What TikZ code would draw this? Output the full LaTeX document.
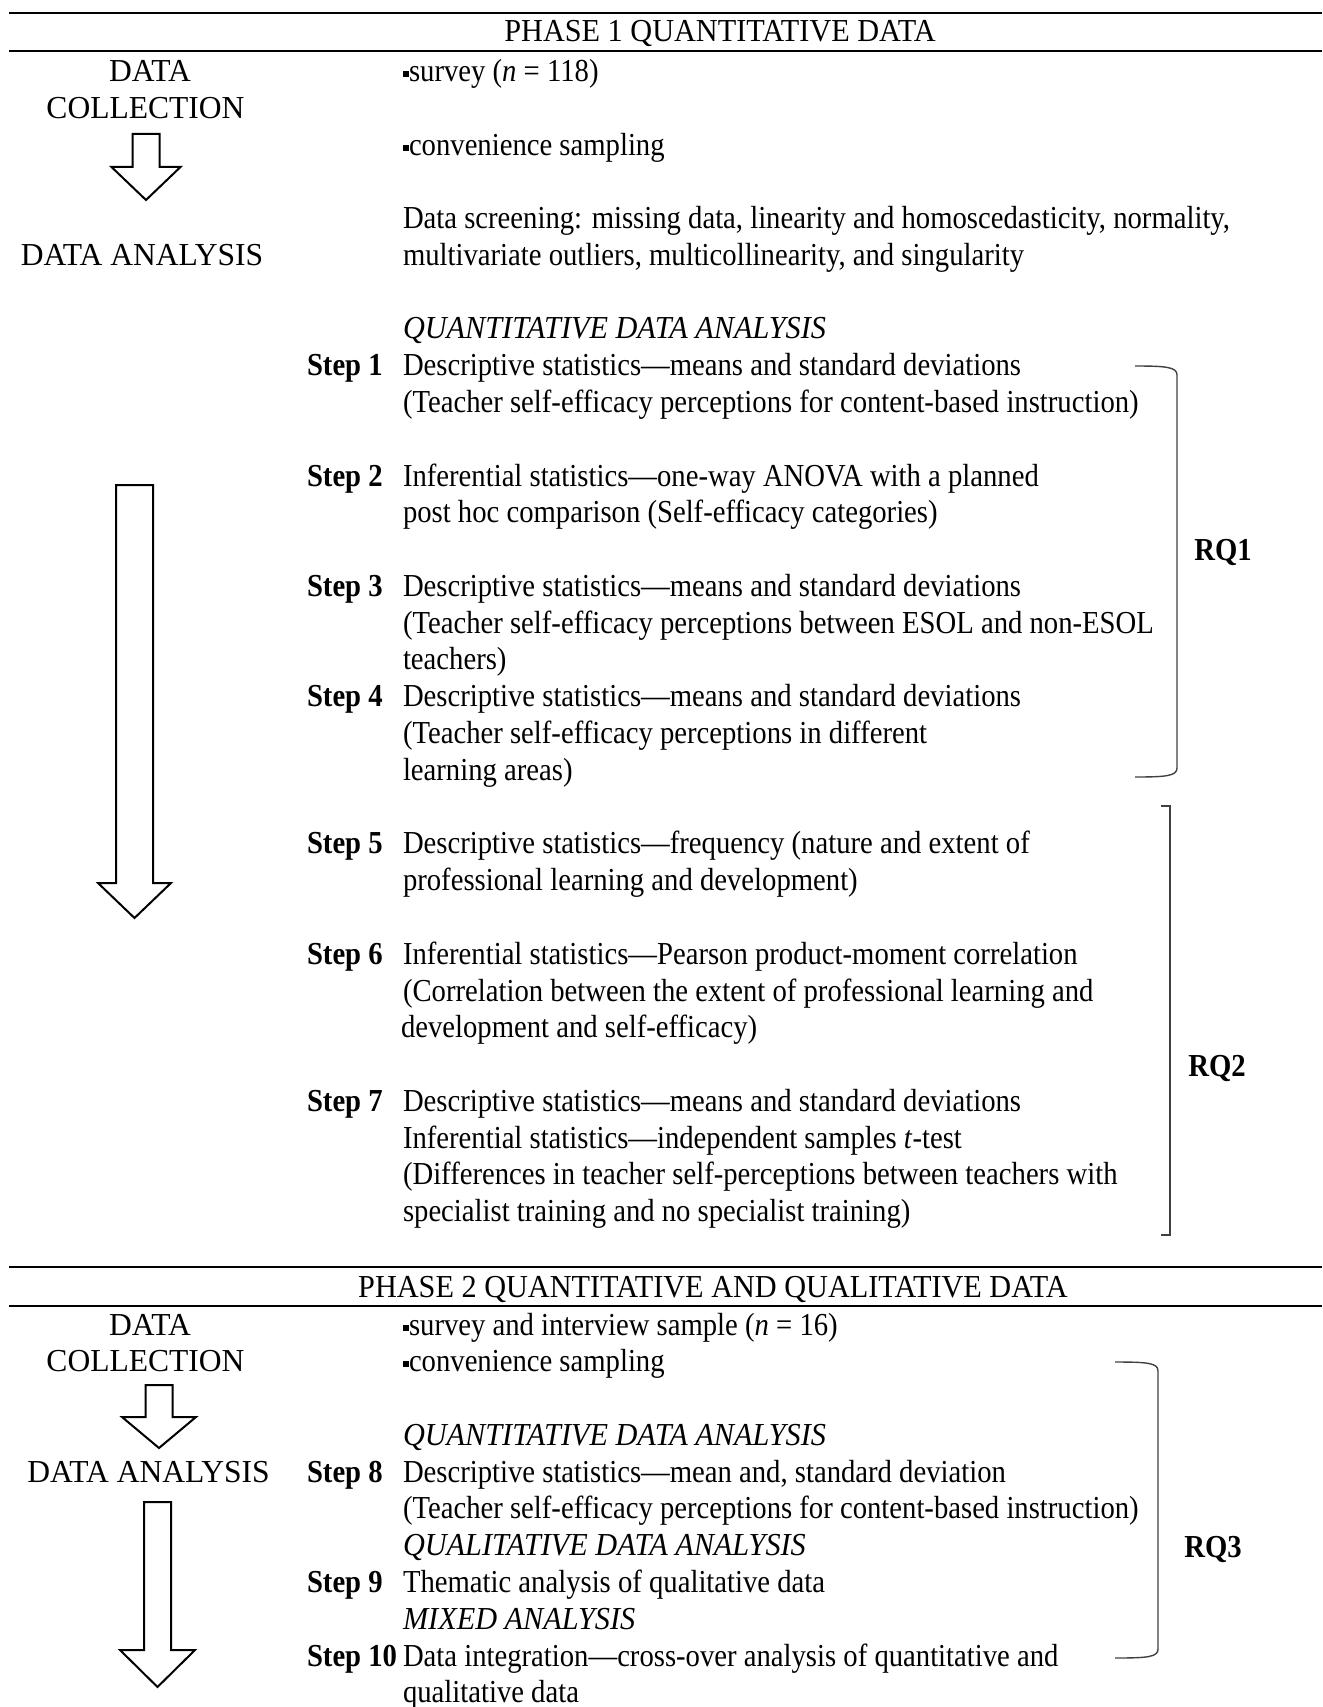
\documentclass[tikz,border=0pt]{standalone}
\usepackage{fontspec}
\newfontfamily\calfont{Liberation Serif}
\newlength\calw
\settowidth\calw{\calfont\fontsize{32}{36}\selectfont Data screening: missing data, linearity and homoscedasticity, normality,}
\pgfmathsetmacro\stretchfac{827/\calw}
\pgfmathsetmacro\capstretch{\stretchfac*1.055}
\pgfmathsetmacro\lblstretch{\stretchfac*1.10}
\edef\dosetfont{%
  \noexpand\setmainfont{Liberation Serif}[FakeStretch=\stretchfac]%
  \noexpand\newfontfamily\noexpand\capsfont{Liberation Serif}[FakeStretch=\capstretch]%
  \noexpand\newfontfamily\noexpand\lblfont{Liberation Serif}[FakeStretch=\lblstretch]}
\dosetfont
\newcommand\Ya[1]{81.5+36.78*#1}
\newcommand\Yb[1]{1335+36.78*#1}
\newcommand\sqb{\rule[4.5pt]{6pt}{6pt}}
\begin{document}
\begin{tikzpicture}[x=1pt,y=-1pt,
  every node/.style={inner sep=0pt,outer sep=0pt,font=\fontsize{32}{36.78}\selectfont},
  txt/.style={anchor=base west},
  ital/.style={anchor=base west,font=\fontsize{32}{36.78}\selectfont\capsfont\itshape},
  hdr/.style={anchor=base,font=\fontsize{32}{36.78}\selectfont\capsfont},
  lbl/.style={anchor=base,font=\fontsize{32}{36.78}\selectfont\lblfont},
  steplab/.style={anchor=base west,font=\fontsize{32}{36.78}\selectfont\bfseries},
  rq/.style={anchor=base,font=\fontsize{32}{36.78}\selectfont\bfseries},
  hrule/.style={line width=2pt},
  brk/.style={draw=black!75,line width=1.4pt},
  barrow/.style={draw=black,line width=2pt,fill=white,line join=miter}]
\useasboundingbox (0,0) rectangle (1322,1707);

% ---------- PHASE 1 ----------
\draw[hrule] (9,13) -- (1322,13);
\node[hdr] (h1) at (720,42) {PHASE 1 QUANTITATIVE DATA};
\draw[hrule] (9,51) -- (1322,51);

\node[lbl] (dc1a) at (150,{\Ya{0}}) {DATA};
\node[lbl] (dc1b) at (145.5,{\Ya{1}}) {COLLECTION};
\node[lbl] (da1) at (142,{\Ya{5}}) {DATA ANALYSIS};

% small arrow phase 1
\draw[barrow] (132.5,134) -- (159.5,134) -- (159.5,167) -- (180.5,167) -- (146,200)
  -- (111.5,167) -- (132.5,167) -- cycle;
% big arrow phase 1
\draw[barrow] (116,485) -- (153,485) -- (153,883) -- (171,883) -- (134.5,918)
  -- (98,883) -- (116,883) -- cycle;

\node[txt] (a0) at (403,{\Ya{0}}) {\sqb survey (\textit{n} = 118)};
\node[txt] (a2) at (403,{\Ya{2}}) {\sqb convenience sampling};
\node[txt] (a4) at (403,{\Ya{4}}) {Data screening: missing data, linearity and homoscedasticity, normality,};
\node[txt] (a5) at (403,{\Ya{5}}) {multivariate outliers, multicollinearity, and singularity};
\node[ital] (a7) at (403,{\Ya{7}}) {QUANTITATIVE DATA ANALYSIS};

\node[steplab] (s1) at (307,{\Ya{8}}) {Step 1};
\node[txt] (a8) at (403,{\Ya{8}}) {Descriptive statistics—means and standard deviations};
\node[txt] (a9) at (403,{\Ya{9}}) {(Teacher self-efficacy perceptions for content-based instruction)};

\node[steplab] (s2) at (307,{\Ya{11}}) {Step 2};
\node[txt] (a11) at (403,{\Ya{11}}) {Inferential statistics—one-way ANOVA with a planned};
\node[txt] (a12) at (403,{\Ya{12}}) {post hoc comparison (Self-efficacy categories)};

\node[steplab] (s3) at (307,{\Ya{14}}) {Step 3};
\node[txt] (a14) at (403,{\Ya{14}}) {Descriptive statistics—means and standard deviations};
\node[txt] (a15) at (403,{\Ya{15}}) {(Teacher self-efficacy perceptions between ESOL and non-ESOL};
\node[txt] (a16) at (403,{\Ya{16}}) {teachers)};

\node[steplab] (s4) at (307,{\Ya{17}}) {Step 4};
\node[txt] (a17) at (403,{\Ya{17}}) {Descriptive statistics—means and standard deviations};
\node[txt] (a18) at (403,{\Ya{18}}) {(Teacher self-efficacy perceptions in different};
\node[txt] (a19) at (403,{\Ya{19}}) {learning areas)};

\node[steplab] (s5) at (307,{\Ya{21}}) {Step 5};
\node[txt] (a21) at (403,{\Ya{21}}) {Descriptive statistics—frequency (nature and extent of};
\node[txt] (a22) at (403,{\Ya{22}}) {professional learning and development)};

\node[steplab] (s6) at (307,{\Ya{24}}) {Step 6};
\node[txt] (a24) at (403,{\Ya{24}}) {Inferential statistics—Pearson product-moment correlation};
\node[txt] (a25) at (403,{\Ya{25}}) {(Correlation between the extent of professional learning and};
\node[txt] (a26) at (401,{\Ya{26}}) {development and self-efficacy)};

\node[steplab] (s7) at (307,{\Ya{28}}) {Step 7};
\node[txt] (a28) at (403,{\Ya{28}}) {Descriptive statistics—means and standard deviations};
\node[txt] (a29) at (403,{\Ya{29}}) {Inferential statistics—independent samples \textit{t}-test};
\node[txt] (a30) at (403,{\Ya{30}}) {(Differences in teacher self-perceptions between teachers with};
\node[txt] (a31) at (403,{\Ya{31}}) {specialist training and no specialist training)};

% brackets phase 1
\draw[brk] (1135,366) .. controls (1166,366) and (1177,367) .. (1177,375)
  -- (1177,768) .. controls (1177,776) and (1166,777) .. (1135,777);
\node[rq] (rq1) at (1223,560) {RQ1};
\draw[brk] (1161,806) -- (1170,806) -- (1170,1235) -- (1161,1235);
\node[rq] (rq2) at (1217,1076) {RQ2};

% ---------- PHASE 2 ----------
\draw[hrule] (9,1267) -- (1322,1267);
\node[hdr] (h2) at (713,1297) {PHASE 2 QUANTITATIVE AND QUALITATIVE DATA};
\draw[hrule] (9,1306) -- (1322,1306);

\node[lbl] (dc2a) at (150,{\Yb{0}}) {DATA};
\node[lbl] (dc2b) at (145.5,{\Yb{1}}) {COLLECTION};
\node[lbl] (da2) at (148.5,{\Yb{4}}) {DATA ANALYSIS};

% small arrow phase 2
\draw[barrow] (145.5,1385) -- (172.5,1385) -- (172.5,1417) -- (196,1417) -- (159,1448)
  -- (122,1417) -- (145.5,1417) -- cycle;
% big arrow phase 2
\draw[barrow] (144,1502) -- (171,1502) -- (171,1650) -- (195,1650) -- (157.5,1687)
  -- (120,1650) -- (144,1650) -- cycle;

\node[txt] (b0) at (403,{\Yb{0}}) {\sqb survey and interview sample (\textit{n} = 16)};
\node[txt] (b1) at (403,{\Yb{1}}) {\sqb convenience sampling};
\node[ital] (b3) at (403,{\Yb{3}}) {QUANTITATIVE DATA ANALYSIS};
\node[steplab] (s8) at (307,{\Yb{4}}) {Step 8};
\node[txt] (b4) at (403,{\Yb{4}}) {Descriptive statistics—mean and, standard deviation};
\node[txt] (b5) at (403,{\Yb{5}}) {(Teacher self-efficacy perceptions for content-based instruction)};
\node[ital] (b6) at (403,{\Yb{6}}) {QUALITATIVE DATA ANALYSIS};
\node[steplab] (s9) at (307,{\Yb{7}}) {Step 9};
\node[txt] (b7) at (403,{\Yb{7}}) {Thematic analysis of qualitative data};
\node[ital] (b8) at (403,{\Yb{8}}) {MIXED ANALYSIS};
\node[steplab] (s10) at (307,{\Yb{9}}) {Step 10};
\node[txt] (b9) at (403,{\Yb{9}}) {Data integration—cross-over analysis of quantitative and};
\node[txt] (b10) at (403,{\Yb{10}}) {qualitative data};

\draw[brk] (1115,1362) .. controls (1148,1362) and (1158,1363) .. (1158,1371)
  -- (1158,1649) .. controls (1158,1657) and (1148,1658) .. (1115,1658);
\node[rq] (rq3) at (1213,1557) {RQ3};
\end{tikzpicture}
\end{document}
